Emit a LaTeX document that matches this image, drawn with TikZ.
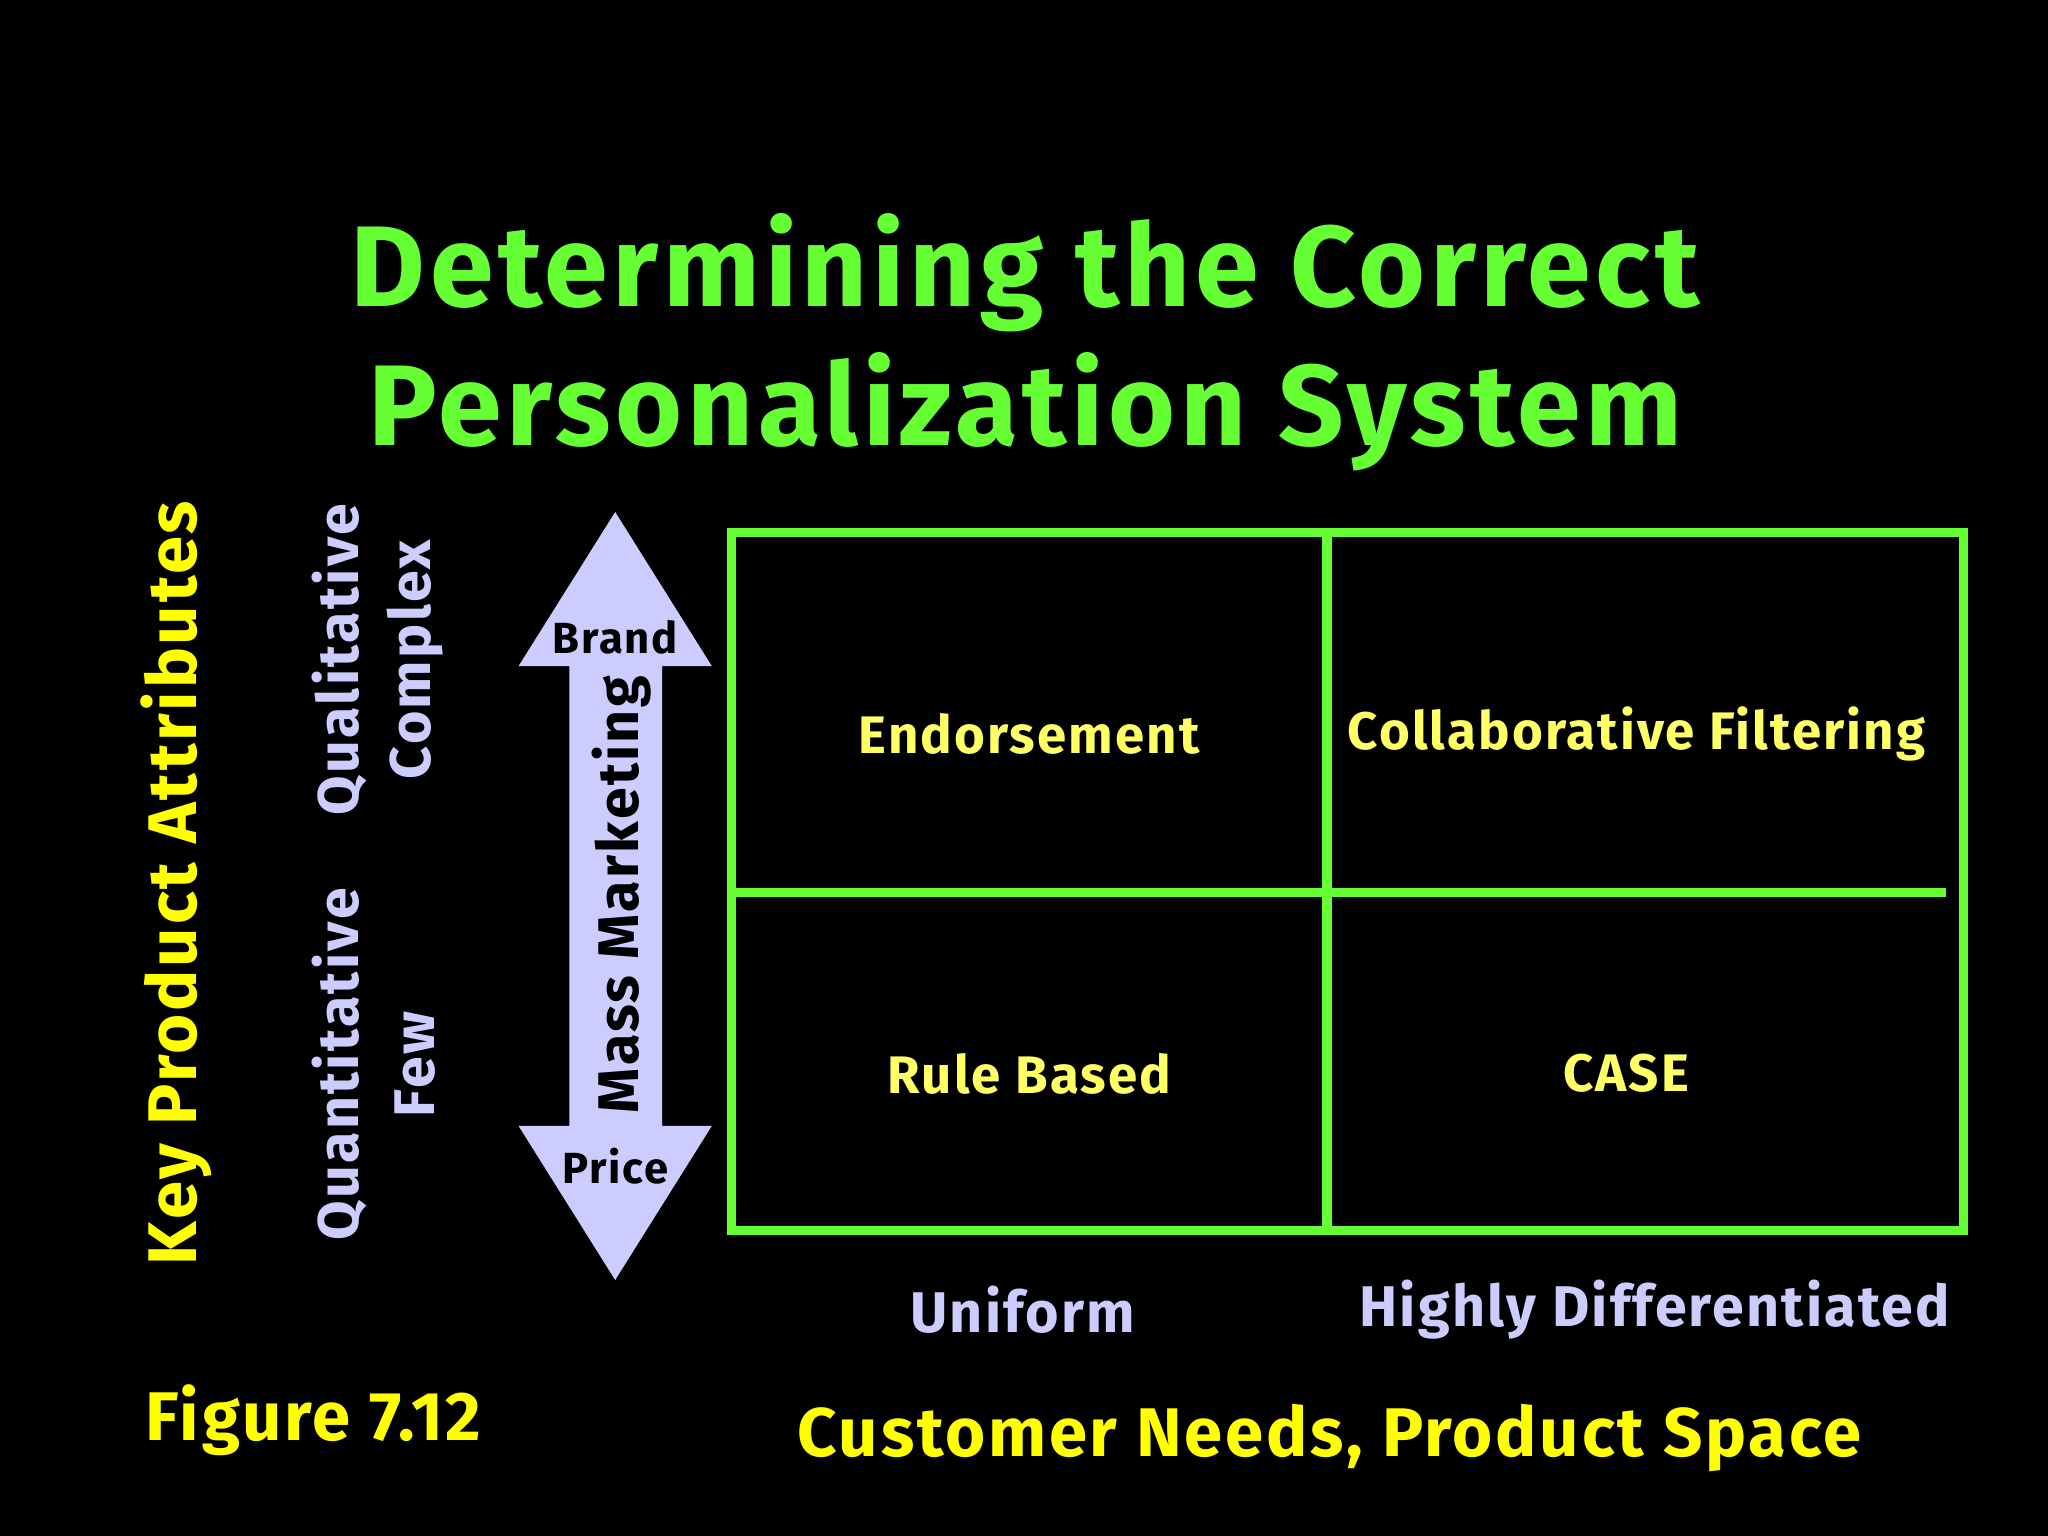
\documentclass[tikz,border=0pt]{standalone}
\usepackage{fontspec}
\setmainfont{Fira Sans}[LetterSpace=4]
\definecolor{grn}{HTML}{66FF33}
\definecolor{yel}{HTML}{FFFF66}
\definecolor{yel2}{HTML}{FFFF00}
\definecolor{lav}{HTML}{CCCCFF}
\tikzset{
 cell/.style={text=yel,font=\fontsize{23}{26}\selectfont\bfseries},
 axis/.style={text=lav,font=\fontsize{25}{30}\selectfont\bfseries},
 big/.style={text=yel2,font=\fontsize{30}{36}\selectfont\bfseries},
 arr/.style={text=black,font=\fontsize{19}{22}\selectfont\bfseries},
}
\begin{document}
\begin{tikzpicture}[x=0.02cm,y=-0.02cm]
\fill[black] (0,0) rectangle (1568,1176);
\useasboundingbox (0,0) rectangle (1568,1176);
\node[text=grn,font=\fontsize{50}{61}\selectfont\bfseries,align=center] (title) at (785,262) {Determining the Correct\\Personalization System};
\draw[grn,line width=0.14cm] (560,408) rectangle (1503,942);
\draw[grn,line width=0.14cm] (1016,408) -- (1016,942);
\draw[grn,line width=0.14cm] (560,683) -- (1490,683);
\node[cell] (e) at (788,562) {Endorsement};
\node[cell] (c) at (1253,562) {Collaborative Filtering};
\node[cell] (r) at (788,822) {Rule Based};
\node[cell] (s) at (1245,822) {CASE};
\node[axis] (u) at (783,1003) {Uniform};
\node[axis] (h) at (1267,1003) {Highly Differentiated};
\node[big] (cn) at (1018,1101) {Customer Needs, Product Space};
\node[big] (f) at (240,1087) {Figure 7.12};
\node[big,rotate=90] (k) at (135,676) {Key Product Attributes};
\node[axis,rotate=90] (q1) at (260,505) {Qualitative};
\node[axis,rotate=90] (q2) at (318,505) {Complex};
\node[axis,rotate=90] (q3) at (260,815) {Quantitative};
\node[axis,rotate=90] (q4) at (318,815) {Few};
\fill[lav] (471,392) -- (545,510) -- (507,510) -- (507,862) -- (545,862) -- (471,980) -- (397,862) -- (436,862) -- (436,510) -- (397,510) -- cycle;
\node[arr] (b) at (471,488) {Brand};
\node[arr] (p) at (471,893) {Price};
\node[arr,font=\fontsize{25}{30}\selectfont\bfseries,rotate=90] (m) at (476,685) {Mass Marketing};
\end{tikzpicture}
\end{document}
